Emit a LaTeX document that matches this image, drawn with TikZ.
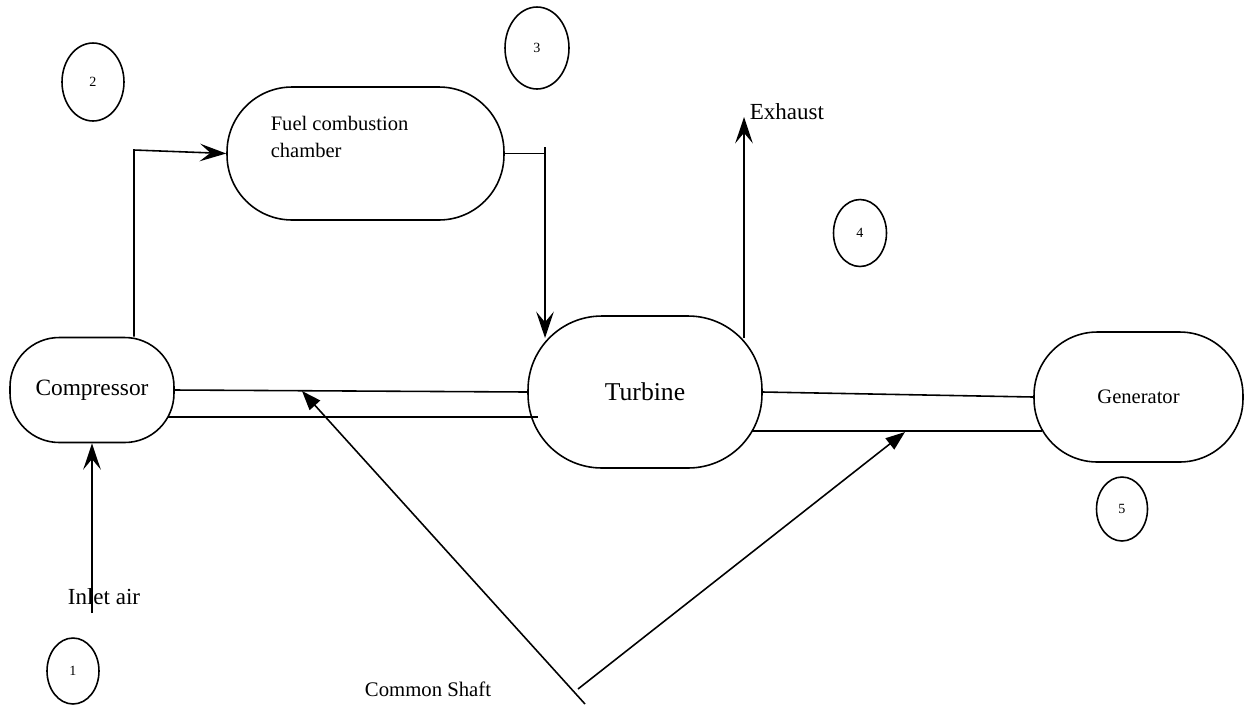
\documentclass[tikz,border=0pt]{standalone}
\usepackage{fontspec}
\setmainfont{Liberation Serif}
\usetikzlibrary{shapes.geometric,arrows.meta,positioning,calc}

\begin{document}
\begin{tikzpicture}[
            x=0.02cm, y=-0.02cm,
            line width=0.9pt,
            unit/.style={rectangle, draw, inner sep=0pt, align=center},
            tag/.style={ellipse, draw, inner sep=0pt, font=\fontsize{8}{9}\selectfont},
            arrow/.style={-{Stealth[length=15pt, width=10pt, inset=6pt]}},
            shaftarrow/.style={-{Triangle[length=11pt, width=8pt]}}
        ]
            \useasboundingbox (0,0) rectangle (1244,704);

            % Units
            \node[unit, minimum width=3.28cm, minimum height=2.1cm, rounded corners=28pt, font=\fontsize{13.3}{16}\selectfont] (comp) at (92,390) {Compressor};
            \node[unit, minimum width=5.54cm, minimum height=2.66cm, rounded corners=37pt] (chamber) at (365.5,153.5) {};
            \node[anchor=west, align=left, inner sep=0pt, font=\fontsize{11.7}{15.4}\selectfont] (chamberlbl) at (270,136.5) {Fuel combustion\\chamber};
            \node[unit, minimum width=4.68cm, minimum height=3.04cm, rounded corners=42pt, font=\fontsize{14.6}{17}\selectfont] (turb) at (645,392) {Turbine};
            \node[unit, minimum width=4.18cm, minimum height=2.6cm, rounded corners=36pt, font=\fontsize{11.7}{14}\selectfont] (gen) at (1138.5,397) {Generator};

            % State points
            \node[tag, minimum width=1.04cm, minimum height=1.32cm] (s1) at (73,671) {1};
            \node[tag, minimum width=1.24cm, minimum height=1.56cm] (s2) at (93,82) {2};
            \node[tag, minimum width=1.28cm, minimum height=1.64cm] (s3) at (537,48) {3};
            \node[tag, minimum width=1.06cm, minimum height=1.34cm] (s4) at (860,233) {4};
            \node[tag, minimum width=1.02cm, minimum height=1.28cm] (s5) at (1122,509) {5};

            % Labels
            \node[anchor=west, inner sep=0pt, font=\fontsize{13.1}{15}\selectfont] (exhaust) at (749,112) {Exhaust};
            \node[font=\fontsize{13.1}{15}\selectfont] (inlet) at (104,597) {Inlet air};
            \node[font=\fontsize{11.8}{14}\selectfont] (shaft) at (428,689) {Common Shaft};

            % Free ends
            \coordinate (airin) at (92,613);
            \coordinate (bend) at (134,150);
            \coordinate (drop) at (545,147);
            \coordinate (turbin) at (545,338);
            \coordinate (exbase) at (744,338);
            \coordinate (extip) at (744,117);
            \coordinate (lowA) at (168,417);
            \coordinate (lowB) at (538,417);
            \coordinate (lowC) at (752,431);
            \coordinate (lowD) at (1042,431);
            \coordinate (foot) at (585,704);
            \coordinate (hub) at (578,689);
            \coordinate (upperhit) at (302,391);
            \coordinate (lowerhit) at (905,432);

            % Flow
            \draw[arrow] (airin) -- (comp.south);
            \draw[arrow] (comp.north -| bend) -- (bend) -- (chamber.west);
            \draw (chamber.east) -- (chamber.east -| drop);
            \draw[arrow] (drop) -- (turbin);
            \draw[arrow] (exbase) -- (extip);

            % Shaft
            \draw (comp.east) -- (turb.west);
            \draw (lowA) -- (lowB);
            \draw (turb.east) -- (gen.west);
            \draw (lowC) -- (lowD);
            \draw[shaftarrow] (foot) -- (upperhit);
            \draw[shaftarrow] (hub) -- (lowerhit);
        \end{tikzpicture}
\end{document}
